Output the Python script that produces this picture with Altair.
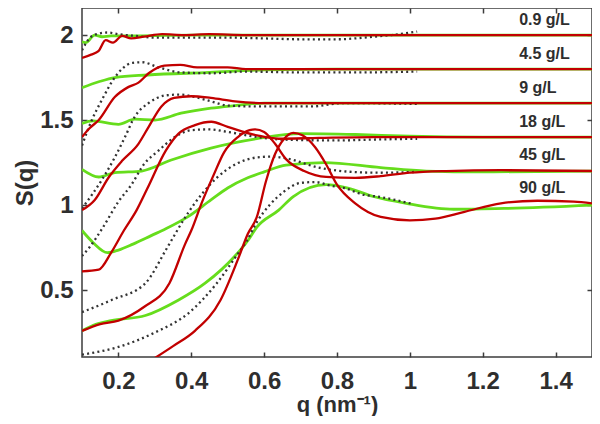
import altair as alt
import pandas as pd

# ---------------- data (q in nm^-1, S(q) with vertical offsets) ----------------
# 0.9 g/L (offset +1.0)
q_g09 = [0.1, 0.11, 0.135, 0.155, 0.18, 0.25, 0.4, 0.8, 1.5]
s_g09 = [1.96, 1.955, 2.0, 1.99, 1.995, 1.995, 2.0, 2.0, 2.0]
q_r09 = [0.1, 0.125, 0.145, 0.165, 0.185, 0.21, 0.235, 0.27, 0.32, 0.38, 0.45, 0.55, 0.7, 1.5]
s_r09 = [1.865, 1.885, 1.905, 1.97, 1.955, 1.995, 1.98, 1.99, 2.005, 2.0, 2.005, 2.0, 2.0, 2.0]
q_d09 = [0.1, 0.125, 0.15, 0.17, 0.2, 0.245, 0.3, 0.4, 0.5, 0.6, 0.7, 0.8, 0.9, 0.95, 1.02]
s_d09 = [1.91, 1.99, 2.01, 2.015, 2.005, 1.995, 1.985, 1.985, 1.985, 1.98, 1.975, 1.975, 1.99, 2.0, 2.02]

# 4.5 g/L (offset +0.8)
q_g4 = [0.1, 0.146, 0.19, 0.28, 0.45, 0.6, 0.8, 1.5]
s_g4 = [1.69, 1.725, 1.75, 1.765, 1.78, 1.795, 1.8, 1.8]
q_r4 = [0.1, 0.12, 0.146, 0.19, 0.228, 0.255, 0.283, 0.326, 0.37, 0.416, 0.454, 0.5, 0.55, 0.6, 0.7, 1.5]
s_r4 = [1.40, 1.45, 1.5, 1.635, 1.695, 1.72, 1.775, 1.82, 1.825, 1.81, 1.81, 1.81, 1.80, 1.80, 1.8, 1.8]
q_d4 = [0.1, 0.127, 0.155, 0.19, 0.236, 0.264, 0.31, 0.372, 0.454, 0.55, 0.7, 0.85, 1.02]
s_d4 = [1.35, 1.5, 1.62, 1.75, 1.835, 1.84, 1.81, 1.78, 1.775, 1.785, 1.78, 1.78, 1.785]

# 9 g/L (offset +0.6)
q_g9 = [0.1, 0.13, 0.2, 0.245, 0.3, 0.372, 0.454, 0.52, 0.6, 0.8, 1.5]
s_g9 = [1.48, 1.495, 1.475, 1.505, 1.5, 1.54, 1.57, 1.585, 1.6, 1.6, 1.6]
q_r9 = [0.1, 0.135, 0.174, 0.21, 0.255, 0.283, 0.318, 0.353, 0.4, 0.454, 0.52, 0.6, 0.8, 1.5]
s_r9 = [0.97, 1.03, 1.165, 1.26, 1.36, 1.46, 1.58, 1.63, 1.64, 1.63, 1.61, 1.6, 1.6, 1.6]
q_d9 = [0.1, 0.155, 0.19, 0.218, 0.245, 0.283, 0.33, 0.37, 0.41, 0.454, 0.5, 0.58, 0.73, 0.82, 1.02]
s_d9 = [0.98, 1.15, 1.28, 1.40, 1.52, 1.6, 1.645, 1.65, 1.635, 1.61, 1.585, 1.58, 1.58, 1.6, 1.595]

# 18 g/L (offset +0.4)
q_g18 = [0.1, 0.146, 0.19, 0.264, 0.345, 0.454, 0.58, 0.7, 0.85, 1.0, 1.2, 1.5]
s_g18 = [1.21, 1.165, 1.19, 1.2, 1.265, 1.335, 1.39, 1.42, 1.415, 1.405, 1.4, 1.4]
q_r18 = [0.1, 0.146, 0.18, 0.215, 0.25, 0.28, 0.33, 0.365, 0.41, 0.455, 0.5, 0.58, 0.64, 0.75, 0.9, 1.5]
s_r18 = [0.61, 0.62, 0.72, 0.85, 0.97, 1.1, 1.32, 1.42, 1.47, 1.49, 1.46, 1.41, 1.39, 1.395, 1.4, 1.4]
q_d18 = [0.1, 0.12, 0.155, 0.2, 0.236, 0.27, 0.31, 0.355, 0.4, 0.45, 0.5, 0.58, 0.65, 0.8, 0.9, 1.02]
s_d18 = [0.70, 0.75, 0.86, 1.02, 1.12, 1.24, 1.32, 1.40, 1.44, 1.445, 1.43, 1.40, 1.385, 1.38, 1.385, 1.39]

# 45 g/L (offset +0.2)
q_g45 = [0.1, 0.13, 0.17, 0.2, 0.24, 0.29, 0.33, 0.39, 0.454, 0.5, 0.555, 0.6, 0.66, 0.765, 0.92, 1.045, 1.2, 1.5]
s_g45 = [0.85, 0.78, 0.72, 0.735, 0.77, 0.82, 0.86, 0.93, 1.03, 1.1, 1.16, 1.195, 1.235, 1.25, 1.22, 1.2, 1.195, 1.2]
q_r45 = [0.1, 0.15, 0.2, 0.27, 0.34, 0.383, 0.4, 0.43, 0.46, 0.49, 0.528, 0.56, 0.575, 0.6, 0.63, 0.66,
         0.71, 0.77, 0.85, 0.92, 1.0, 1.1, 1.25, 1.5]
s_r45 = [0.26, 0.30, 0.32, 0.40, 0.54, 0.77, 0.85, 1.02, 1.17, 1.31, 1.40, 1.44, 1.445, 1.43, 1.36, 1.27,
         1.2, 1.165, 1.16, 1.17, 1.19, 1.2, 1.205, 1.2]
q_d45 = [0.1, 0.18, 0.274, 0.33, 0.345, 0.39, 0.47, 0.58, 0.62, 0.66, 0.75, 0.84, 0.92, 1.02]
s_d45 = [0.37, 0.44, 0.54, 0.735, 0.79, 0.95, 1.16, 1.28, 1.285, 1.275, 1.22, 1.195, 1.19, 1.195]

# 90 g/L (no offset)
q_g90 = [0.1, 0.14, 0.18, 0.274, 0.364, 0.438, 0.52, 0.555, 0.58, 0.64, 0.68, 0.77, 0.83, 0.9, 0.99, 1.12, 1.26, 1.5]
s_g90 = [0.26, 0.30, 0.32, 0.35, 0.44, 0.54, 0.70, 0.79, 0.87, 0.97, 1.05, 1.12, 1.10, 1.05, 1.01, 0.975, 0.98, 1.0]
q_r90 = [0.3, 0.35, 0.41, 0.48, 0.528, 0.555, 0.58, 0.605, 0.63, 0.655, 0.68, 0.705, 0.74, 0.77, 0.8, 0.85,
         0.92, 1.0, 1.07, 1.15, 1.25, 1.35, 1.45, 1.5]
s_r90 = [0.1, 0.17, 0.26, 0.44, 0.68, 0.83, 0.93, 1.14, 1.3, 1.39, 1.425, 1.41, 1.34, 1.24, 1.12, 1.01,
         0.93, 0.91, 0.92, 0.96, 1.01, 1.025, 1.02, 1.01]
q_d90 = [0.1, 0.2, 0.3, 0.39, 0.47, 0.53, 0.55, 0.58, 0.615, 0.655, 0.7, 0.74, 0.78, 0.82, 0.874, 0.91, 1.01]
s_d90 = [0.12, 0.165, 0.25, 0.36, 0.54, 0.72, 0.78, 0.9, 1.0, 1.08, 1.13, 1.135, 1.115, 1.10, 1.06, 1.05, 1.005]

# concentration labels
conc_labels = ["0.9 g/L", "4.5 g/L", "9 g/L", "18 g/L", "45 g/L", "90 g/L"]
label_s = [2.09, 1.89, 1.69, 1.49, 1.295, 1.10]
label_q = [1.30, 1.30, 1.30, 1.30, 1.30, 1.30]

x_ticks = [0.2, 0.4, 0.6, 0.8, 1.0, 1.2, 1.4]
y_ticks = [0.5, 1.0, 1.5, 2.0]

# ---------------- build tables ----------------
curves = [
    ("0.9", "green", q_g09, s_g09), ("0.9", "red", q_r09, s_r09), ("0.9", "dot", q_d09, s_d09),
    ("4.5", "green", q_g4, s_g4), ("4.5", "red", q_r4, s_r4), ("4.5", "dot", q_d4, s_d4),
    ("9", "green", q_g9, s_g9), ("9", "red", q_r9, s_r9), ("9", "dot", q_d9, s_d9),
    ("18", "green", q_g18, s_g18), ("18", "red", q_r18, s_r18), ("18", "dot", q_d18, s_d18),
    ("45", "green", q_g45, s_g45), ("45", "red", q_r45, s_r45), ("45", "dot", q_d45, s_d45),
    ("90", "green", q_g90, s_g90), ("90", "red", q_r90, s_r90), ("90", "dot", q_d90, s_d90),
]
rows = []
for conc, kind, qs, ss in curves:
    for q, s in zip(qs, ss):
        rows.append({"curve": conc + "_" + kind, "kind": kind, "q": q, "S": s})
df = pd.DataFrame(rows)
lab_df = pd.DataFrame({"q": label_q, "S": label_s, "label": conc_labels})

FONT = "Liberation Sans"
AX = "#3c3c3c"
TXT = "#2e2e2e"

xscale = alt.Scale(domain=[0.1, 1.5], nice=False, zero=False)
yscale = alt.Scale(domain=[0.106, 2.159], nice=False, zero=False)

common_axis = dict(domain=False, grid=False, ticks=True, tickSize=5, tickColor=AX,
                   tickWidth=1.5, offset=-5)

x_bottom = alt.Axis(orient="bottom", values=x_ticks, format="~g", labelPadding=12,
                    labelFont=FONT, labelFontSize=24, labelFontWeight="bold", labelColor=TXT,
                    title="q (nm\u207b\u00b9)", titleFont=FONT, titleFontSize=22,
                    titleFontWeight="bold", titleColor=TXT, titlePadding=1, **common_axis)
y_left = alt.Axis(orient="left", values=y_ticks, format="~g", labelPadding=9,
                  labelFont=FONT, labelFontSize=24, labelFontWeight="bold", labelColor=TXT,
                  title="S(q)", titleFont=FONT, titleFontSize=24, titleFontWeight="bold",
                  titleColor=TXT, titlePadding=2, **common_axis)
x_top = alt.Axis(orient="top", values=x_ticks, labels=False, title=None, **common_axis)
y_right = alt.Axis(orient="right", values=y_ticks, labels=False, title=None, **common_axis)

green = alt.Chart(df).transform_filter(alt.datum.kind == "green").mark_line(
    clip=True, color="#66dd1c", strokeWidth=2.8, interpolate="monotone"
).encode(
    x=alt.X("q:Q", scale=xscale, axis=x_bottom),
    y=alt.Y("S:Q", scale=yscale, axis=y_left),
    detail="curve:N",
)

dots = alt.Chart(df).transform_filter(alt.datum.kind == "dot").mark_line(
    clip=True, color="#333333", strokeWidth=2.3, strokeDash=[2, 3.2], interpolate="monotone"
).encode(
    x=alt.X("q:Q", scale=xscale, axis=x_top),
    y=alt.Y("S:Q", scale=yscale, axis=y_right),
    detail="curve:N",
)

red = alt.Chart(df).transform_filter(alt.datum.kind == "red").mark_line(
    clip=True, color="#c20000", strokeWidth=2.3, interpolate="monotone"
).encode(
    x=alt.X("q:Q", scale=xscale, axis=None),
    y=alt.Y("S:Q", scale=yscale, axis=None),
    detail="curve:N",
)

labels = alt.Chart(lab_df).mark_text(
    align="left", baseline="middle", font=FONT, fontSize=16, fontWeight="bold", color=TXT
).encode(
    x=alt.X("q:Q", scale=xscale, axis=None),
    y=alt.Y("S:Q", scale=yscale, axis=None),
    text="label:N",
)

chart = alt.layer(green, dots, red, labels).resolve_axis(
    x="independent", y="independent"
).properties(
    width=510, height=349,
    padding={"left": 74, "top": 0, "right": 0, "bottom": 59},
    autosize=alt.AutoSizeParams(type="none"),
    background="white",
).configure_view(stroke=AX, strokeWidth=1.5)

chart.save("out.html", embed_options={"renderer": "svg", "actions": False})
